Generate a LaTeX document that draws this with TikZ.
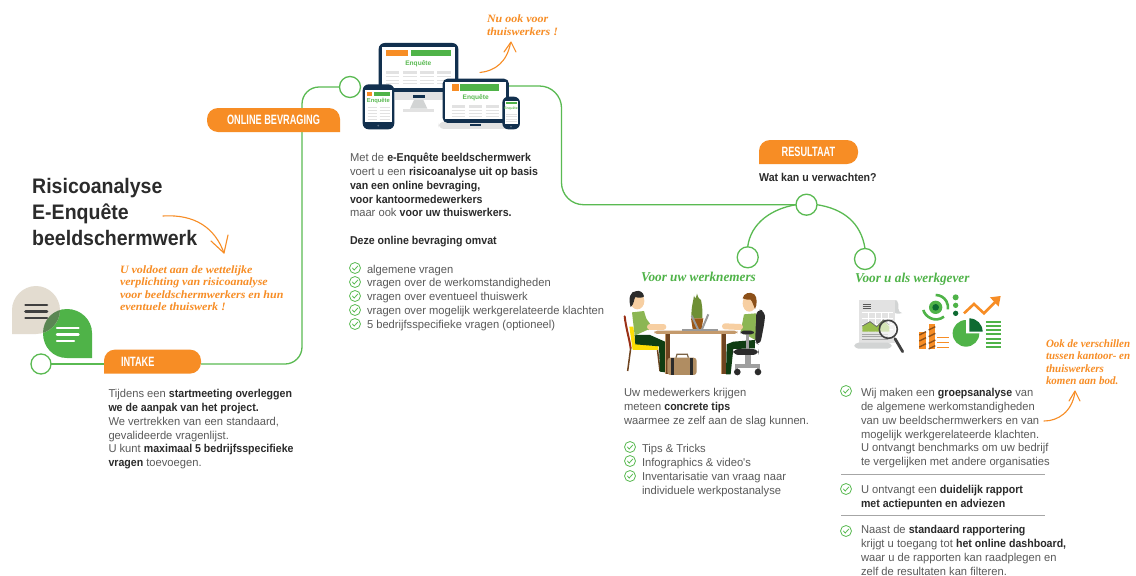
\documentclass[tikz,border=0pt]{standalone}
\usepackage{fontspec}
\setmainfont{Liberation Sans}
\newfontfamily\condfont[FakeStretch=0.68]{Liberation Sans}
\newfontfamily\titlefamily[FakeStretch=0.93]{Liberation Sans}
\newfontfamily\handfont[FakeStretch=0.98]{Liberation Serif}
\newfontfamily\handwide[FakeStretch=1.07]{Liberation Serif}
\newfontfamily\bodyfamily[UprightFeatures={FakeStretch=0.98},BoldFeatures={FakeStretch=0.93}]{Liberation Sans}
\definecolor{lnk}{HTML}{5ABA52}
\definecolor{orng}{HTML}{F78D25}
\definecolor{grn}{HTML}{4FB348}
\definecolor{dgrn}{HTML}{0E6B32}
\definecolor{navy}{HTML}{12304E}
\definecolor{bodyc}{HTML}{5A5A5A}
\definecolor{darkc}{HTML}{2B2B2B}
\definecolor{beige}{HTML}{E3DCD0}
\definecolor{lgray}{HTML}{E2E2E2}
\definecolor{mgray}{HTML}{D2D4D4}
\definecolor{tan1}{HTML}{C49A6C}
\definecolor{tan2}{HTML}{B08D62}
\definecolor{brn}{HTML}{6F4420}
\definecolor{skin}{HTML}{F7CFA2}
\definecolor{shirt}{HTML}{8CB653}
\definecolor{pants}{HTML}{0F3D12}
\definecolor{plantc}{HTML}{6E8F35}
\newcommand{\B}[1]{{\bfseries\color{darkc}#1}}
\newcommand{\pilltext}[1]{\raisebox{-0.8pt}{#1}}
\pgfdeclarelayer{lay0}\pgfdeclarelayer{lay1}\pgfsetlayers{lay0,lay1,main}
\tikzset{
  body/.style={anchor=north west,inner sep=0pt,outer sep=0pt,align=left,text=bodyc,font=\bodyfamily\fontsize{11.4}{13.8}\selectfont},
  scripttext/.style={anchor=north west,inner sep=0pt,outer sep=0pt,align=left,text=orng,font=\handwide\bfseries\itshape\fontsize{11.2}{12.4}\selectfont},
  scriptnarrow/.style={scripttext,font=\handfont\bfseries\itshape\fontsize{11.2}{12.4}\selectfont},
  greenscript/.style={anchor=base west,inner sep=0pt,text=grn,font=\handfont\bfseries\itshape\fontsize{13.5}{15}\selectfont},
  titletext/.style={anchor=north west,inner sep=0pt,align=left,text=darkc,font=\titlefamily\bfseries\fontsize{21}{25.6}\selectfont},
  pillbox/.style={inner sep=0pt,outer sep=0pt,text=white,font=\condfont\bfseries\fontsize{13.5}{15}\selectfont},
  pillfill/.style={fill=orng,draw=none},
  hub/.style={circle,draw=lnk,line width=1.3pt,fill=white,minimum size=20pt,inner sep=0pt,outer sep=0pt},
  lnkline/.style={draw=lnk,line width=1.3pt},
  handarrow/.style={draw=orng,line width=1.1pt,line cap=round,line join=round},
  sep/.style={draw=gray!70,line width=0.7pt},
  chkmark/.pic={
    \draw[lnk,line width=0.8pt] (0,0) circle (5.5);
    \draw[lnk,line width=0.8pt] (-2.8,-0.2) -- (-0.8,2) -- (3,-2.2);
  },
  enq/.style={inner sep=0pt,text=lnk,font=\bfseries\fontsize{6.6}{7}\selectfont},
  thinbar/.style={draw=lgray,line width=0.8pt},
}
\begin{document}
\begin{tikzpicture}[x=1pt,y=-1pt]
\useasboundingbox (0,0) rectangle (1136,576);
\begin{pgfonlayer}{lay0}
\fill[white] (0,0) rectangle (1136,576);
\end{pgfonlayer}

% ---------- speech bubbles
\fill[grn] (92,358) -- (67,358) .. controls (53,358) and (43,347) .. (43,333) .. controls (43,320) and (53,309) .. (67,309) .. controls (81,309) and (92,320) .. (92,333) -- cycle;
\fill[beige] (12,334) -- (12,310) .. controls (12,297) and (23,286) .. (36,286) .. controls (49,286) and (60,297) .. (60,310) .. controls (60,323) and (49,334) .. (36,334) -- cycle;
\begin{scope}
\clip (92,358) -- (67,358) .. controls (53,358) and (43,347) .. (43,333) .. controls (43,320) and (53,309) .. (67,309) .. controls (81,309) and (92,320) .. (92,333) -- cycle;
\fill[green!30!black!60!beige] (12,334) -- (12,310) .. controls (12,297) and (23,286) .. (36,286) .. controls (49,286) and (60,297) .. (60,310) .. controls (60,323) and (49,334) .. (36,334) -- cycle;
\end{scope}
\foreach \yy in {305,311.5,318}{\draw[darkc!90,line width=2.6pt,line cap=round] (25.5,\yy) -- (47,\yy);}
\foreach \yy/\xe in {328/78.5,334.5/78.5,341/74}{\draw[white,line width=2.4pt,line cap=round] (57,\yy) -- (\xe,\yy);}

% ---------- main nodes
\node[hub] (cIntake) at (41,364) {};
\node[hub,minimum size=21pt] (cOnline) at (350,87) {};
\node[hub,minimum size=21pt] (cResult) at (806.5,204.7) {};
\node[hub,minimum size=21pt] (cEmployee) at (747.7,257.3) {};
\node[hub,minimum size=21pt] (cEmployer) at (865,259) {};
\coordinate (devEnd) at (507,86);

\node[pillbox,minimum width=97pt,minimum height=24pt,inner xsep=17pt,text width=63pt,align=left] (pIntake) at (152.5,361.6) {INTAKE};
\node[pillbox,minimum width=133pt,minimum height=24pt] (pOnline) at (273.5,120) {\pilltext{ONLINE BEVRAGING}};
\node[pillbox,minimum width=99pt,minimum height=24pt] (pResult) at (808.5,152) {RESULTAAT};

\begin{pgfonlayer}{lay1}
\fill[pillfill] (pIntake.south west) [rounded corners=11] -- (pIntake.north west) -- (pIntake.north east) -- (pIntake.south east) -- (pIntake.south west);
\fill[pillfill] (pOnline.south east) [rounded corners=11] -- (pOnline.north east) -- (pOnline.north west) -- (pOnline.south west) -- (pOnline.south east);
\fill[pillfill] (pResult.south west) [rounded corners=11] -- (pResult.north west) -- (pResult.north east) -- (pResult.south east) -- (pResult.south west);
\end{pgfonlayer}

% ---------- connectors
\begin{pgfonlayer}{lay0}
\coordinate (b1) at (302,364);
\coordinate (b2) at (302,87);
\coordinate (b3) at (561.5,86);
\coordinate (b4) at (561.5,204.7);
\draw[lnkline] (cIntake) -- (cIntake -| pIntake.west);
\draw[lnkline] (cIntake -| pIntake.east) [rounded corners=17] -- (b1) -- (b2) [sharp corners] -- (cOnline);
\draw[lnkline] (devEnd) [rounded corners=22] -- (b3) -- (b4) -- (cResult);
\draw[lnkline] (cResult.west) .. controls +(-24,4) and +(3,-24) .. (cEmployee.north);
\draw[lnkline] (cResult.east) .. controls +(26,4) and +(-4,-26) .. (cEmployer.north);
\end{pgfonlayer}

% ---------- title and texts
\node[titletext] (title) at (32,178.5) {Risicoanalyse\\E-Enqu\^ete\\beeldschermwerk};

\node[scripttext] (noteA) at (120,265.7) {U voldoet aan de wettelijke\\verplichting van risicoanalyse\\voor beeldschermwerkers en hun\\eventuele thuiswerk !};
\node[scripttext] (noteB) at (487,15) {Nu ook voor\\thuiswerkers !};
\node[scriptnarrow] (noteC) at (1046,339.5) {Ook de verschillen\\tussen kantoor- en\\thuiswerkers\\komen aan bod.};
\node[greenscript] (empA) at (641,281) {Voor uw werknemers};
\node[greenscript] (empB) at (855,282.5) {Voor u als werkgever};

\node[body] (tIntake) at (108.5,388) {\strut Tijdens een \B{startmeeting overleggen}\\\B{we de aanpak van het project.}\\We vertrekken van een standaard,\\gevalideerde vragenlijst.\\U kunt \B{maximaal 5 bedrijfsspecifieke}\\\B{vragen} toevoegen.};

\node[body] (tOnline) at (350,152) {\strut Met de \B{e-Enqu\^ete beeldschermwerk}\\voert u een \B{risicoanalyse uit op basis}\\\B{van een online bevraging,}\\\B{voor kantoormedewerkers}\\maar ook \B{voor uw thuiswerkers.}\\[13.8pt]\B{Deze online bevraging omvat}};
\node[body] (lOnline) at (367,263.4) {\strut algemene vragen\\vragen over de werkomstandigheden\\vragen over eventueel thuiswerk\\vragen over mogelijk werkgerelateerde klachten\\5 bedrijfsspecifieke vragen (optioneel)};
\foreach \yy in {268,282,296,310,324}{\pic at (355,\yy) {chkmark};}

\node[anchor=base west,inner sep=0pt,text=darkc,font=\bodyfamily\bfseries\fontsize{11.4}{13.8}\selectfont] (tResult) at (759,181) {Wat kan u verwachten?};

\node[body] (tEmp) at (624,387) {\strut Uw medewerkers krijgen\\meteen \B{concrete tips}\\waarmee ze zelf aan de slag kunnen.};
\node[body] (lEmp) at (642,443) {\strut Tips \& Tricks\\Infographics \& video's\\Inventarisatie van vraag naar\\individuele werkpostanalyse};
\foreach \yy in {447,461,476}{\pic at (630,\yy) {chkmark};}

\node[body] (tBoss1) at (861,387) {\strut Wij maken een \B{groepsanalyse} van\\de algemene werkomstandigheden\\van uw beeldschermwerkers en van\\mogelijk werkgerelateerde klachten.\\U ontvangt benchmarks om uw bedrijf\\te vergelijken met andere organisaties};
\node[body] (tBoss2) at (861,484) {\strut U ontvangt een \B{duidelijk rapport}\\\B{met actiepunten en adviezen}};
\node[body] (tBoss3) at (861,524) {\strut Naast de \B{standaard rapportering}\\krijgt u toegang tot \B{het online dashboard,}\\waar u de rapporten kan raadplegen en\\zelf de resultaten kan filteren.};
\foreach \yy in {391,489,531}{\pic at (846,\yy) {chkmark};}
\draw[sep] (841,474.5) -- (1045,474.5);
\draw[sep] (841,515) -- (1045,515);

% ---------- hand-drawn arrows
\draw[handarrow] (163,216) .. controls (195,214) and (215,228) .. (224,253);
\draw[handarrow] (211,241) -- (224,253) -- (228,235);
\draw[handarrow] (480,72.5) .. controls (495,71) and (507,62) .. (510.5,43);
\draw[handarrow] (504,52) -- (511,42) -- (516,52);
\draw[handarrow] (1044,421) .. controls (1058,421) and (1072,412) .. (1075,392);
\draw[handarrow] (1069,401) -- (1075,391) -- (1080,401);

% ---------- devices (coordinates in 3x zoom units)
\begin{scope}[shift={(340,0)},x=0.3333pt,y=-0.3333pt]
  % monitor stand
  \fill[lgray] (165,272) -- (310,272) -- (310,300) -- (165,300) -- cycle;
  \fill[mgray] (222,300) -- (250,300) -- (262,326) -- (210,326) -- cycle;
  \fill[lgray] (190,326) rectangle (282,337);
  \fill[navy] (218,286) rectangle (254,293);
  % monitor
  \fill[navy,rounded corners=6] (116,129) rectangle (355,276);
  \fill[white] (125,140) rectangle (346,265);
  \fill[orng] (138,150) rectangle (205,168);
  \fill[grn] (213,150) rectangle (333,168);
  \node[enq] (enqA) at (235,190) {Enqu\^ete};
  \foreach \xa/\xb in {138/178,189/230,241/282,292/333}{
    \fill[lgray] (\xa,212) rectangle (\xb,222);
    \foreach \yy in {230,240,250}{\draw[thinbar] (\xa,\yy) -- (\xb,\yy);}
  }
  % tablet
  \fill[navy,rounded corners=6] (68,253) rectangle (163,388);
  \fill[white] (76,270) rectangle (155,367);
  \fill[orng] (82,275) rectangle (97,288);
  \fill[grn] (103,275) rectangle (149,288);
  \node[enq,font=\bfseries\fontsize{5.8}{6}\selectfont] (enqB) at (115,303) {Enqu\^ete};
  \foreach \xa/\xb in {83/111,119/149}{
    \foreach \yy in {321,330,339,348,357}{\draw[thinbar] (\xa,\yy) -- (\xb,\yy);}
  }
  \fill[navy!70] (115,377) circle (3);
  % laptop
  \fill[lgray,rounded corners=6] (295,365) rectangle (508,387);
  \fill[navy,rounded corners=5] (308,236) rectangle (507,369);
  \fill[white] (316,245) rectangle (498,358);
  \fill[orng] (335,253) rectangle (356,272);
  \fill[grn] (361,253) rectangle (478,272);
  \node[enq] (enqC) at (407,293) {Enqu\^ete};
  \foreach \xa/\xb in {335/376,387/427,438/478}{
    \fill[lgray] (\xa,316) rectangle (\xb,323);
    \foreach \yy in {332,340,348}{\draw[thinbar] (\xa,\yy) -- (\xb,\yy);}
  }
  \fill[navy] (390,373) rectangle (422,379);
  % phone
  \fill[navy,rounded corners=6] (487,290) rectangle (540,388);
  \fill[white] (494,304) rectangle (533,372);
  \fill[grn] (498,307) rectangle (530,313);
  \node[enq,font=\bfseries\fontsize{3.4}{4}\selectfont] (enqD) at (513,327) {Enqu\^ete};
  \foreach \yy in {343,350,357,364}{\draw[thinbar,line width=0.5pt] (498,\yy) -- (530,\yy);}
  \fill[navy!70] (513,380) circle (3);
\end{scope}

% ---------- people at the table (3x zoom units)
\begin{scope}[shift={(620,285)},x=0.3333pt,y=-0.3333pt]
  % left chair
  \draw[brn!70!red,line width=2pt,line cap=round] (14,94) .. controls (18,130) and (28,160) .. (32,190);
  \draw[brn,line width=1.5pt] (32,190) -- (23,258);
  \draw[brn,line width=1.5pt] (112,190) -- (120,258);
  \fill[yellow!80!orange] (28,125) -- (40,125) -- (46,176) -- (115,184) -- (115,195) -- (38,195) -- cycle;
  % left person
  \fill[pants] (44,150) -- (90,150) -- (135,170) -- (135,262) -- (120,260) -- (117,184) -- (46,178) -- cycle;
  \fill[shirt] (36,82) -- (72,78) -- (88,132) -- (44,152) -- cycle;
  \fill[shirt] (66,84) -- (90,116) -- (86,136) -- (70,120) -- cycle;
  \draw[skin,line width=6pt,line cap=round] (90,125) -- (130,125);
  \fill[skin] (52,48) ellipse (21 and 25);
  \fill[darkc] (50,18) .. controls (30,18) and (24,40) .. (32,66) .. controls (42,60) and (42,40) .. (46,36) .. controls (55,40) and (70,38) .. (72,34) .. controls (70,22) and (60,16) .. (50,18) -- cycle;
  % table
  \fill[brn] (135,146) rectangle (150,268);
  \fill[tan1] (135,146) rectangle (139,268);
  \fill[brn] (302,146) rectangle (318,268);
  \fill[tan1] (302,146) rectangle (306,268);
  \fill[tan1,rounded corners=3] (103,137) rectangle (352,147);
  % plant and laptops
  \fill[plantc] (215,100) .. controls (212,70) and (220,50) .. (222,32) .. controls (226,45) and (228,38) .. (231,26) .. controls (236,45) and (240,40) .. (243,45) .. controls (248,70) and (248,85) .. (247,100) -- cycle;
  \fill[brn!70!orange] (213,100) -- (250,100) -- (245,132) -- (218,132) -- cycle;
  \fill[gray!80] (185,131) -- (295,131) -- (295,137) -- (185,137) -- cycle;
  \draw[gray!80,line width=2pt] (215,92) -- (235,135);
  \draw[gray!80,line width=2pt] (265,88) -- (245,135);
  % briefcase
  \draw[tan2!70!black,line width=1.2pt] (168,218) -- (171,208) -- (202,208) -- (205,218);
  \fill[tan2,rounded corners=3] (142,218) rectangle (230,270);
  \fill[darkc] (154,218) rectangle (162,270);
  \fill[darkc] (210,218) rectangle (218,270);
  % right person
  \fill[pants] (405,165) -- (340,170) -- (320,178) -- (318,268) -- (332,268) -- (340,192) -- (405,190) -- cycle;
  \fill[darkc,rounded corners=6] (410,72) -- (436,78) -- (434,110) -- (420,182) -- (402,170) -- cycle;
  \fill[shirt] (372,88) -- (408,85) -- (406,165) -- (362,140) -- cycle;
  \draw[skin,line width=6pt,line cap=round] (315,124) -- (360,126);
  \fill[skin] (388,55) ellipse (20 and 25);
  \fill[brn!80!orange] (368,40) .. controls (370,25) and (390,18) .. (403,28) .. controls (412,36) and (412,60) .. (405,72) .. controls (400,62) and (398,50) .. (392,44) .. controls (385,46) and (375,42) .. (368,40) -- cycle;
  % office chair
  \fill[gray!75] (378,148) rectangle (388,195);
  \fill[darkc,rounded corners=3] (362,137) rectangle (402,148);
  \fill[darkc,rounded corners=6] (338,192) rectangle (416,210);
  \fill[gray!75] (376,210) rectangle (392,238);
  \fill[gray!75] (346,236) rectangle (420,250);
  \fill[gray!75] (346,236) rectangle (355,252);
  \fill[gray!75] (410,236) rectangle (420,252);
  \fill[darkc] (352,261) circle (10);
  \fill[darkc] (414,261) circle (10);
\end{scope}

% ---------- report and charts (3x zoom units)
\begin{scope}[shift={(850,290)},x=0.3333pt,y=-0.3333pt]
  \fill[mgray,rounded corners=4] (130,30) -- (145,30) -- (145,68) -- (160,70) -- (130,72) -- cycle;
  \fill[lgray] (28,30) rectangle (135,160);
  \fill[mgray,rounded corners=4] (13,158) rectangle (125,176);
  \foreach \yy in {42,49,56}{\draw[gray!70!black,line width=0.7pt] (38,\yy) -- (64,\yy);}
  \foreach \yy in {68,85,102,119}{\draw[white,line width=0.5pt] (35,\yy) -- (130,\yy);}
  \foreach \xx in {55,75,95,115}{\draw[white,line width=0.5pt] (\xx,66) -- (\xx,125);}
  \fill[shirt!90!yellow] (37,125) -- (37,108) -- (60,95) -- (80,110) -- (100,90) -- (118,110) -- (118,125) -- cycle;
  \draw[darkc!70,line width=0.8pt] (37,108) -- (60,95) -- (80,110) -- (100,90) -- (118,105);
  \foreach \yy in {132,140,148}{\draw[gray!70,line width=0.8pt] (37,\yy) -- (115,\yy);}
  \draw[darkc!90,line width=2.8pt,line cap=round] (135,146) -- (158,185);
  \fill[white,opacity=0.6] (115,118) circle (27);
  \draw[darkc!90,line width=1.6pt] (115,118) circle (27);
  % swirl
  \fill[grn] (257,52) circle (20);
  \fill[dgrn] (257,52) circle (10);
  \draw[grn,line width=2.6pt] (257,15) arc[start angle=-90,end angle=10,radius=37];
  \draw[grn,line width=2.6pt] (220,60) .. controls (225,80) and (255,100) .. (282,80);
  % dots
  \fill[grn] (317,22) circle (9);
  \fill[grn] (317,46) circle (8);
  \fill[dgrn] (317,70) circle (8);
  % trend arrow
  \draw[orng,line width=2.6pt] (342,70) -- (372,42) -- (402,70) -- (440,32);
  \fill[orng] (420,22) -- (452,18) -- (446,50) -- cycle;
  % pie
  \fill[grn] (388,130) arc[start angle=0,end angle=270,radius=40] -- (348,130) -- cycle;
  \fill[dgrn] (398,125) arc[start angle=0,end angle=-90,radius=40] -- (358,125) -- cycle;
  % stripes
  \foreach \yy in {95,108,120,133,146,158,171}{\draw[grn,line width=2pt] (408,\yy) -- (452,\yy);}
  % bars
  \fill[orng] (208,125) rectangle (228,178);
  \fill[orng] (236,103) rectangle (256,178);
  \foreach \yy in {130,148,166}{\draw[brn!80!orange,line width=1.4pt] (208,\yy+5) -- (228,\yy-5);}
  \foreach \yy in {115,135,155,172}{\draw[brn!80!orange,line width=1.4pt] (236,\yy+5) -- (256,\yy-5);}
  \foreach \yy in {143,158,172}{\draw[orng,line width=1.5pt] (262,\yy) -- (298,\yy);}
\end{scope}
\end{tikzpicture}
\end{document}
